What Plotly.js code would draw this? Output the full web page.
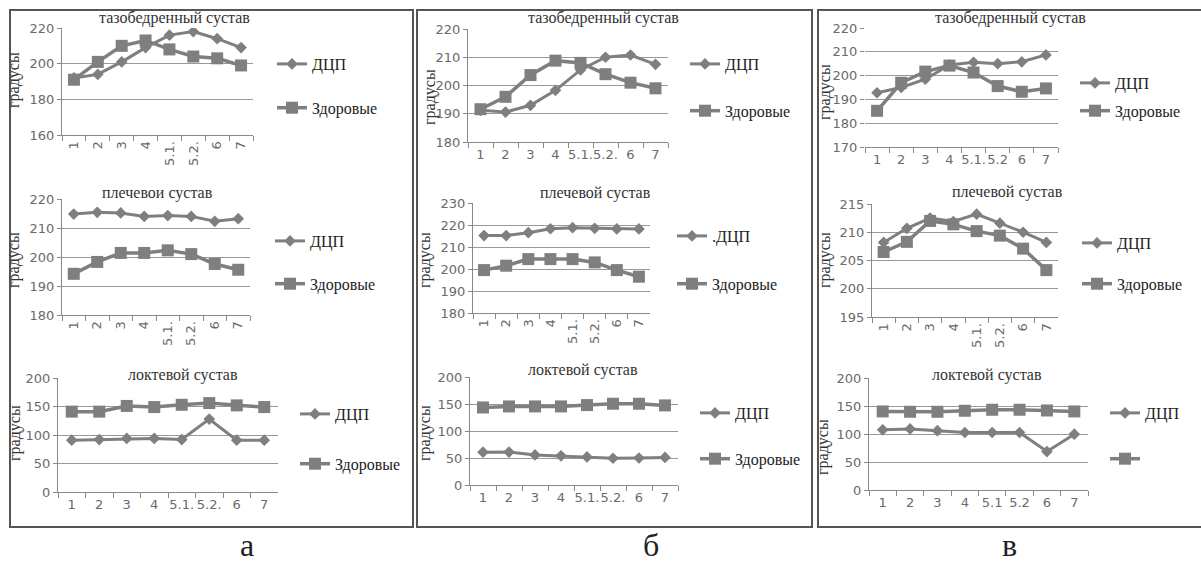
<!DOCTYPE html>
<html>
<head>
<meta charset="utf-8">
<script src="https://cdn.plot.ly/plotly-3.0.1.min.js"></script>
<style>html,body{margin:0;padding:0;background:#fff;}#chart{width:1201px;height:563px;}</style>
</head>
<body>
<div id="chart"></div>
<script>
// ---- data ----
const seriesNames = ['ДЦП', 'Здоровые'];
const catsStd = ['1', '2', '3', '4', '5.1.', '5.2.', '6', '7'];
const catsV1 = ['1', '2', '3', '4', '5.1.', '5.2', '6', '7'];
const catsV3 = ['1', '2', '3', '4', '5.1', '5.2', '6', '7'];

const aHipDcp = [192, 194, 201, 209, 216, 218, 214, 209];
const aHipHealthy = [191, 201, 210, 213, 208, 204, 203, 199];
const aShoulderDcp = [214.8, 215.4, 215.2, 214, 214.3, 214, 212.3, 213.2];
const aShoulderHealthy = [194.2, 198.3, 201.4, 201.4, 202.3, 201, 197.6, 195.6];
const aElbowDcp = [91, 92, 94, 94, 92, 128, 91, 91];
const aElbowHealthy = [141, 141, 151, 149, 153, 156, 152, 149];

const bHipDcp = [191.2, 190.6, 193, 198.3, 205.5, 210, 210.8, 207.5];
const bHipHealthy = [191.6, 196, 203.7, 208.8, 208, 204, 201, 199];
const bShoulderDcp = [215.2, 215.2, 216.5, 218.3, 218.8, 218.5, 218.2, 218.2];
const bShoulderHealthy = [199.5, 201.5, 204.5, 204.5, 204.5, 203, 199.5, 196.5];
const bElbowDcp = [60.7, 61, 55.7, 54, 52, 49.5, 50, 51];
const bElbowHealthy = [143.6, 145.5, 145.5, 145.5, 148, 150.5, 150.5, 147.4];

const vHipDcp = [192.8, 195, 198.5, 204.5, 205.6, 205, 205.8, 208.7];
const vHipHealthy = [185.2, 197, 201.7, 204.2, 201.3, 195.6, 193.2, 194.6];
const vShoulderDcp = [208.2, 210.7, 212.5, 211.9, 213.2, 211.6, 210, 208.2];
const vShoulderHealthy = [206.5, 208.3, 212, 211.4, 210.2, 209.4, 207.1, 203.3];
const vElbowDcp = [107.5, 109, 106, 102.7, 102.7, 102.7, 68.7, 99.7];
const vElbowHealthy = [140.3, 139.7, 139.7, 141.5, 143.3, 143.3, 142, 140.3];

const titleHip = 'тазобедренный сустав';
const titleShoulderA = 'плечевои сустав';
const titleShoulder = 'плечевой сустав';
const titleElbow = 'локтевой сустав';
const yTitle = 'градусы';
const panelLetters = ['а', 'б', 'в'];

// ---- layout config (pixels) ----
const W = 1201, H = 563;
const panels = [
  {cats: catsStd, dcp: aHipDcp, hl: aHipHealthy, names: ['ДЦП','Здоровые'], box: [62, 253, 28, 135], range: [160, 220], dtick: 20, angle: -90, title: titleHip, tx: 175, ty: 18, gx: 14, gy: 80, lx: 272, l1: 63, l2: 107, showY: true},
  {cats: catsStd, dcp: aShoulderDcp, hl: aShoulderHealthy, names: ['ДЦП','Здоровые'], box: [62, 250, 199, 315], range: [180, 220], dtick: 10, angle: -90, title: titleShoulderA, tx: 157, ty: 193, gx: 14, gy: 260, lx: 270, l1: 240, l2: 283, showY: true},
  {cats: catsStd, dcp: aElbowDcp, hl: aElbowHealthy, names: ['ДЦП','Здоровые'], box: [58, 278, 378, 492], range: [0, 200], dtick: 50, angle: 0, title: titleElbow, tx: 183, ty: 375, gx: 15, gy: 433, lx: 295, l1: 413, l2: 463, showY: true},
  {cats: catsStd, dcp: bHipDcp, hl: bHipHealthy, names: ['ДЦП','Здоровые'], box: [468, 668, 29, 142], range: [180, 220], dtick: 10, angle: 0, title: titleHip, tx: 603, ty: 18, gx: 430, gy: 97, lx: 685, l1: 63, l2: 110, showY: true},
  {cats: catsStd, dcp: bShoulderDcp, hl: bShoulderHealthy, names: ['.ДЦП','Здоровые'], box: [473, 650, 203, 313], range: [180, 230], dtick: 10, angle: -90, title: titleShoulder, tx: 595, ty: 193, gx: 425, gy: 260, lx: 672, l1: 235, l2: 283, showY: true},
  {cats: catsStd, dcp: bElbowDcp, hl: bElbowHealthy, names: ['ДЦП','Здоровые'], box: [470, 678, 377, 485], range: [0, 200], dtick: 50, angle: 0, title: titleElbow, tx: 583, ty: 370, gx: 425, gy: 433, lx: 695, l1: 412, l2: 458, showY: true},
  {cats: catsV1, dcp: vHipDcp, hl: vHipHealthy, names: ['ДЦП','Здоровые'], box: [865, 1058, 28, 147], range: [170, 220], dtick: 10, angle: 0, title: titleHip, tx: 1010, ty: 18, gx: 825, gy: 92, lx: 1075, l1: 82, l2: 110, showY: false},
  {cats: catsStd, dcp: vShoulderDcp, hl: vShoulderHealthy, names: ['ДЦП','Здоровые'], box: [872, 1058, 204, 317], range: [195, 215], dtick: 5, angle: -90, title: titleShoulder, tx: 1007, ty: 192, gx: 825, gy: 260, lx: 1077, l1: 242, l2: 283, showY: true},
  {cats: catsV3, dcp: vElbowDcp, hl: vElbowHealthy, names: ['ДЦП',' '], box: [869, 1088, 378, 490], range: [0, 200], dtick: 50, angle: 0, title: titleElbow, tx: 987, ty: 375, gx: 823, gy: 447, lx: 1105, l1: 412, l2: 458, showY: true}
];

const gray = '#7f7f7f';
const tickFont = {family: 'DejaVu Sans, sans-serif', size: 13, color: '#6a6a6a'};
const serif = 'Liberation Serif';

const traces = [];
const layout = {
  width: W, height: H,
  margin: {l: 0, r: 0, t: 0, b: 0},
  paper_bgcolor: '#fff', plot_bgcolor: 'rgba(0,0,0,0)',
  font: {family: serif, size: 16, color: '#222'},
  showlegend: true,
  annotations: [], shapes: []
};

panels.forEach((p, i) => {
  const n = i + 1;
  const xa = 'xaxis' + (n === 1 ? '' : n), ya = 'yaxis' + (n === 1 ? '' : n);
  const xr = 'x' + (n === 1 ? '' : n), yr = 'y' + (n === 1 ? '' : n);
  const lg = 'legend' + (n === 1 ? '' : n);
  const [x0, x1, y0, y1] = p.box;
  layout[xa] = {
    domain: [x0 / W, x1 / W], anchor: yr, type: 'category',
    categoryarray: p.cats, range: [-0.5, 7.5], tickson: 'boundaries',
    ticks: 'outside', ticklen: 5, tickcolor: '#888', showline: true, linecolor: '#888', linewidth: 1,
    showgrid: false, tickangle: p.angle, tickfont: tickFont, fixedrange: true
  };
  layout[ya] = {
    domain: [1 - y1 / H, 1 - y0 / H], anchor: xr, range: p.range, dtick: p.dtick,
    ticks: 'outside', ticklen: 4, tickcolor: '#888', showline: p.showY, linecolor: '#888', linewidth: 1,
    showgrid: true, gridcolor: '#999', gridwidth: 1, zeroline: false, tickfont: tickFont, fixedrange: true
  };
  layout[lg] = {
    x: p.lx / W, y: 1 - (p.l1 - 16) / H, xanchor: 'left', yanchor: 'top',
    bgcolor: 'rgba(0,0,0,0)', borderwidth: 0,
    font: {family: serif, size: 16, color: '#222'},
    tracegroupgap: Math.max(0, p.l2 - p.l1 - 24), traceorder: 'grouped'
  };
  traces.push({
    type: 'scatter', mode: 'lines+markers', x: p.cats, y: p.dcp, xaxis: xr, yaxis: yr,
    name: p.names[0], legend: lg, legendgroup: 'd' + n,
    line: {color: gray, width: 3}, marker: {symbol: 'diamond', size: 9, color: gray}
  });
  traces.push({
    type: 'scatter', mode: 'lines+markers', x: p.cats, y: p.hl, xaxis: xr, yaxis: yr,
    name: p.names[1], legend: lg, legendgroup: 'h' + n,
    line: {color: gray, width: 3.5}, marker: {symbol: 'square', size: 12, color: gray}
  });
  layout.annotations.push({
    xref: 'paper', yref: 'paper', x: p.tx / W, y: 1 - p.ty / H, xanchor: 'center', yanchor: 'middle',
    text: p.title, showarrow: false, font: {family: serif, size: 16, color: '#333'}
  });
  layout.annotations.push({
    xref: 'paper', yref: 'paper', x: p.gx / W, y: 1 - p.gy / H, xanchor: 'center', yanchor: 'middle',
    text: yTitle, textangle: -90, showarrow: false, font: {family: serif, size: 16, color: '#333'}
  });
});

// panel letters
const letterX = [247, 651, 1009];
panelLetters.forEach((t, i) => {
  layout.annotations.push({
    xref: 'paper', yref: 'paper', x: letterX[i] / W, y: 1 - 545 / H, xanchor: 'center', yanchor: 'middle',
    text: t, showarrow: false, font: {family: serif, size: 32, color: '#222'}
  });
});

// panel borders
const borders = [[10, 413], [417, 812], [818, 1205]];
borders.forEach(b => {
  layout.shapes.push({
    type: 'rect', xref: 'paper', yref: 'paper', x0: b[0] / W, x1: b[1] / W, y0: 1 - 527 / H, y1: 1 - 10 / H,
    line: {color: '#555', width: 2}, fillcolor: 'rgba(0,0,0,0)', layer: 'below'
  });
});

Plotly.newPlot('chart', traces, layout, {displayModeBar: false, staticPlot: true});
</script>
</body>
</html>
